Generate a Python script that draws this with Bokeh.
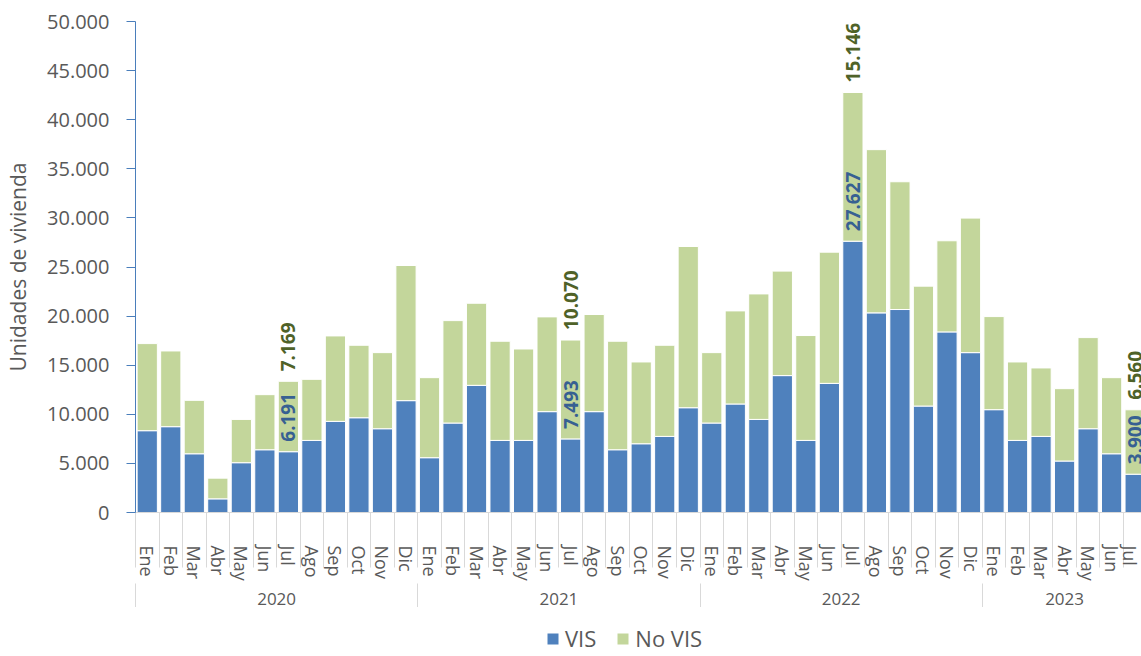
import math
from bokeh.plotting import figure
from bokeh.layouts import column
from bokeh.core.properties import value
from bokeh.models import (Range1d, FixedTicker, LinearAxis, ColumnDataSource, LabelSet,
                          Legend, LegendItem)
from bokeh.embed import file_html
from bokeh.resources import INLINE

# ---------------- data ----------------
months = ["Ene", "Feb", "Mar", "Abr", "May", "Jun", "Jul", "Ago", "Sep", "Oct", "Nov", "Dic"]
years = ["2020", "2021", "2022", "2023"]
months_per_year = [12, 12, 12, 7]

vis = [
    8330, 8740, 5980, 1390, 5070, 6390, 6191, 7340, 9280, 9650, 8530, 11390,      # 2020
    5580, 9110, 12950, 7340, 7340, 10270, 7493, 10270, 6390, 7000, 7750, 10670,   # 2021
    9110, 11050, 9480, 13940, 7340, 13150, 27627, 20330, 20670, 10840, 18390, 16280,  # 2022
    10470, 7340, 7750, 5240, 8530, 5980, 3900,                                    # 2023
]
no_vis = [
    8870, 7710, 5440, 2110, 4410, 5610, 7169, 6220, 8700, 7380, 7750, 13760,
    8150, 10430, 8360, 10100, 9310, 9650, 10070, 9890, 11050, 8330, 9280, 16420,
    7170, 9480, 12780, 10640, 10680, 13360, 15146, 16620, 13010, 12210, 9280, 13700,
    9480, 7990, 6970, 7370, 9280, 7750, 6560,
]
series_names = ["VIS", "No VIS"]
labeled_month = "Jul"
y_ticks = list(range(0, 50001, 5000))

# ---------------- style ----------------
FONT = "Open Sans"
BOLD_FONT = "Noto Sans"
GREY = "#595959"
BLUE = "#4F81BD"
GREEN = "#C3D69B"
AXIS_BLUE = "#4A7EBB"
SEP = "#D9D9D9"
LBL_BLUE = "#376092"
LBL_GREEN = "#4F6228"
W = 1141
LEFT = 135


def fmt(v):
    return f"{v:,}".replace(",", ".")


month_labels = []
for y, n in zip(years, months_per_year):
    month_labels += months[:n]
N = len(month_labels)
xs = list(range(N))

src = ColumnDataSource(dict(x=xs, vis=vis, no_vis=no_vis))

p = figure(width=W, frame_height=491, output_backend="svg", toolbar_location=None,
           x_range=Range1d(-0.5, 42.27), y_range=Range1d(0, 50000),
           x_axis_location=None, min_border_left=LEFT, min_border_right=0,
           min_border_top=21, min_border_bottom=0)
p.outline_line_color = None
p.grid.visible = False
p.background_fill_color = "white"

rs = p.vbar_stack(["vis", "no_vis"], x="x", width=0.86, source=src,
                  fill_color=[BLUE, GREEN], line_color="white", line_width=1)

# y axis
ya = p.yaxis[0]
ya.ticker = FixedTicker(ticks=y_ticks)
ya.major_label_overrides = {t: fmt(t) for t in y_ticks}
ya.axis_line_color = AXIS_BLUE
ya.major_tick_line_color = AXIS_BLUE
ya.minor_tick_line_color = None
ya.major_tick_in = 0
ya.major_tick_out = 9
ya.major_label_standoff = 17
ya.major_label_text_font = FONT
ya.major_label_text_font_size = "20px"
ya.major_label_text_color = GREY
ya.axis_label = "Unidades de vivienda"
ya.axis_label_text_font = FONT
ya.axis_label_text_font_size = "21px"
ya.axis_label_text_font_style = "normal"
ya.axis_label_text_color = GREY
ya.axis_label_standoff = 12

# month axis (labels + short separators)
month_axis = LinearAxis(
    ticker=FixedTicker(ticks=xs, minor_ticks=[i - 0.5 for i in range(N + 1)]),
    major_label_overrides={i: m for i, m in zip(xs, month_labels)},
    major_label_orientation="vertical",
    major_tick_in=0, major_tick_out=0, major_tick_line_color=None,
    minor_tick_in=0, minor_tick_out=55, minor_tick_line_color=SEP, minor_tick_line_width=1,
    axis_line_color=SEP, axis_line_width=1,
    major_label_standoff=-22,
    major_label_text_font=FONT, major_label_text_font_size="18px",
    major_label_text_color=GREY,
)
p.add_layout(month_axis, "below")

# year axis (group labels + long separators)
year_centers = []
year_bounds = []
start = 0
for n in months_per_year:
    year_bounds.append(start - 0.5)
    year_centers.append(start + (n - 1) / 2)
    start += n
year_axis = LinearAxis(
    ticker=FixedTicker(ticks=year_centers, minor_ticks=year_bounds),
    major_label_overrides={c: y for c, y in zip(year_centers, years)},
    major_tick_in=0, major_tick_out=0, major_tick_line_color=None,
    minor_tick_in=0, minor_tick_out=41, minor_tick_line_color=SEP, minor_tick_line_width=1,
    axis_line_color=None,
    major_label_standoff=-32,
    major_label_text_font=FONT, major_label_text_font_size="17px",
    major_label_text_color=GREY,
)
p.add_layout(year_axis, "below")

# data labels for the highlighted month
lx, ly, lt, lc = [], [], [], []
for i, m in enumerate(month_labels):
    if m == labeled_month:
        lx += [i, i]
        ly += [vis[i], vis[i] + no_vis[i]]
        lt += [fmt(vis[i]), fmt(no_vis[i])]
        lc += [LBL_BLUE, LBL_GREEN]
lsrc = ColumnDataSource(dict(x=lx, y=ly, text=lt, color=lc))
labels = LabelSet(x="x", y="y", text="text", source=lsrc, angle=math.pi / 2,
                  text_align="left", text_baseline="middle", y_offset=10,
                  text_font=value(BOLD_FONT), text_font_style="bold",
                  text_font_size="19px", text_color="color")
p.add_layout(labels)

# ---------------- legend strip ----------------
lf = figure(width=W, height=46, output_backend="svg", toolbar_location=None,
            x_range=Range1d(-0.5, 42.27), y_range=Range1d(0, 50000),
            x_axis_location=None, y_axis_location=None,
            min_border_left=LEFT, min_border_right=0, min_border_top=0, min_border_bottom=0)
lf.outline_line_color = None
lf.grid.visible = False
swatches = [lf.vbar(x="x", top=col, width=0.86, source=src, fill_color=c,
                    line_color="white", line_width=1, visible=False)
            for col, c in (("vis", BLUE), ("no_vis", GREEN))]
legend = Legend(items=[LegendItem(label=nm, renderers=[r]) for nm, r in zip(series_names, swatches)],
                orientation="horizontal", location=(410, 0),
                border_line_color=None, background_fill_alpha=0,
                inactive_fill_alpha=0,
                label_text_font=FONT, label_text_font_size="22px", label_text_color=GREY,
                glyph_width=15, glyph_height=15, spacing=19, label_standoff=5,
                padding=0, margin=0)
lf.add_layout(legend, "center")

layout = column(p, lf, spacing=0)
open("out.html", "w").write(file_html(layout, INLINE))
